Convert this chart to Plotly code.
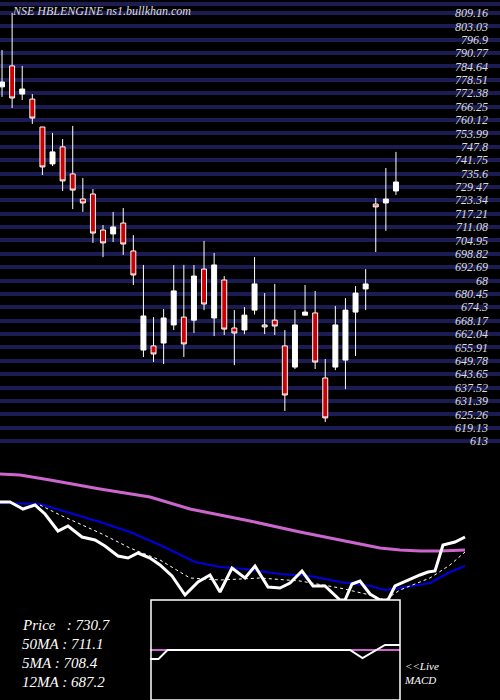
import plotly.graph_objects as go

opens  = [775.3,784.9,772.0,769.7,756.9,740.0,747.8,735.4,723.9,726.2,709.7,707.9,712.9,700.1,654.7,656.6,657.9,666.2,669.8,668.4,
          691.8,669.4,686.8,664.8,663.9,673.0,666.2,668.4,656.6,646.9,670.7,671.7,641.9,646.9,650.1,672.1,682.7,721.6,722.1,727.6]
closes = [777.5,770.2,774.3,761.0,738.6,745.5,732.2,728.0,722.1,708.3,703.8,711.1,703.3,689.1,670.3,652.9,669.4,681.8,657.5,688.6,
          675.8,693.7,664.3,662.5,670.7,685.0,665.3,665.7,634.1,666.2,672.1,649.2,623.6,666.2,673.0,680.8,685.0,720.3,723.9,731.7]
highs  = [792.2,809.2,784.9,772.0,756.9,754.2,751.4,757.4,733.5,728.5,712.0,718.0,719.8,707.4,693.7,669.8,673.5,693.7,693.7,693.7,
          704.7,699.2,688.6,673.0,674.4,697.3,680.8,685.0,663.9,673.0,684.5,681.8,650.6,674.9,678.5,684.0,691.8,724.4,738.1,745.5]
lows   = [770.7,765.6,769.3,758.3,734.9,739.0,727.6,719.3,718.0,703.8,697.3,704.2,698.3,684.5,651.5,649.2,648.3,663.9,651.5,662.5,
          673.0,661.1,661.6,647.8,662.0,671.0,662.0,661.6,626.8,646.0,670.7,646.0,621.7,645.5,636.8,652.0,673.0,699.6,709.3,725.8]
days = list(range(len(opens)))

tick_vals = [813.29,809.16,803.03,796.9,790.77,784.64,778.51,772.38,766.25,760.12,753.99,747.8,741.75,735.6,729.47,723.34,
             717.21,711.08,704.95,698.82,692.69,686.56,680.45,674.3,668.17,662.04,655.91,649.78,643.65,637.52,631.39,625.26,619.13,613]
tick_text = [str(v) for v in tick_vals]
tick_text[21] = "68"

# indicator panel (level units)
price_x = [0,1.0,2.3,3.5,4.5,5.8,6.8,8.2,9.5,10.5,11.8,12.8,13.8,15.0,16.0,17.2,18.5,19.8,21.0,22.0,23.2,24.5,25.5,26.8,28.0,
           29.0,30.2,31.3,32.5,34.0,34.5,35.2,36.0,37.0,38.0,38.8,39.5,41.0,42.0,42.8,43.5,44.3,45.5,46.5]
price_v = [198,198,191,195,186,169,174,163,160,154,144,142,147,142,135,124,105,118,125,108,132,122,134,113,112,117,129,114,114,100,
           100,116,119,106,100,100,114,121,125,128,129,155,158,163]
blue_x = [0,4,6,10,13,16,19.5,22,24.5,28,31,34,37,38.5,40,43,45,46.5]
blue_v = [197,196,190,178,168,155,138,133,131,126,124,118,114,110,112,117,128,134]
dot_x = [4,6,10,13,16,19,22,26,30,34,37,38.5,40,43,45,46.5]
dot_v = [195,185,167,152,140,122,120,122,119,112,105,100,110,122,135,148]
ma50_x = [0,2,5,10,15,19,25,30,35,38,40,42,44,46.5]
ma50_v = [226,225,220,211,203,191,179,168,158,152,150,149,149,150]

macd_x = [0,1.7,3.5,30,32,36,40,42.5,47,50]
macd_v = [-9,-9,0,0,0,0,0,-8,5,5]
signal_x = [0,50]
signal_v = [0,0]

fig = go.Figure()
fig.add_trace(go.Candlestick(x=days, open=opens, high=highs, low=lows, close=closes,
    increasing=dict(line=dict(color="white", width=1), fillcolor="white"),
    decreasing=dict(line=dict(color="white", width=1), fillcolor="#cc0000"),
    whiskerwidth=0, xaxis="x", yaxis="y", showlegend=False))
fig.add_trace(go.Scatter(x=ma50_x, y=ma50_v, mode="lines", line=dict(color="#cc66cc", width=3), xaxis="x2", yaxis="y2"))
fig.add_trace(go.Scatter(x=blue_x, y=blue_v, mode="lines", line=dict(color="#0000dd", width=2), xaxis="x2", yaxis="y2"))
fig.add_trace(go.Scatter(x=dot_x, y=dot_v, mode="lines", line=dict(color="white", width=1, dash="dot"), xaxis="x2", yaxis="y2"))
fig.add_trace(go.Scatter(x=price_x, y=price_v, mode="lines", line=dict(color="white", width=3), xaxis="x2", yaxis="y2"))
fig.add_trace(go.Scatter(x=signal_x, y=signal_v, mode="lines", line=dict(color="#cc66cc", width=2), xaxis="x3", yaxis="y3"))
fig.add_trace(go.Scatter(x=macd_x, y=macd_v, mode="lines", line=dict(color="white", width=2), xaxis="x3", yaxis="y3"))

fig.update_layout(
    width=500, height=700, margin=dict(l=0, r=0, t=0, b=0),
    paper_bgcolor="black", plot_bgcolor="black", showlegend=False,
    xaxis=dict(domain=[0, 1], range=[-0.2, 49.3], showgrid=False, showticklabels=False, zeroline=False,
               rangeslider=dict(visible=False), anchor="y"),
    yaxis=dict(domain=[1 - 450/700, 1], range=[608.9, 815.1], tickvals=tick_vals, ticktext=tick_text,
               showgrid=True, gridcolor="#1c1c55", gridwidth=4, zeroline=False,
               side="right", ticklabelposition="inside", ticks="", ticklabelstandoff=9,
               tickfont=dict(family="Liberation Serif", size=12, color="#dddddd", style="italic"), anchor="x"),
    xaxis2=dict(domain=[0, 1], range=[0, 50], visible=False, anchor="y2"),
    yaxis2=dict(domain=[100/700, 240/700], range=[100, 240], visible=False, anchor="x2"),
    xaxis3=dict(domain=[0.3, 0.8], range=[0, 50], visible=False, anchor="y3"),
    yaxis3=dict(domain=[0, 100/700], range=[-50, 50], visible=False, anchor="x3"),
)
fig.add_shape(type="rect", xref="paper", yref="paper", x0=0.302, x1=0.8, y0=0, y1=100/700,
              line=dict(color="white", width=1.5))
fig.add_annotation(x=0.02, y=1-11/700, xref="paper", yref="paper", xanchor="left", yanchor="middle",
                   text="<i>NSE HBLENGINE ns1.bullkhan.com</i>", showarrow=False,
                   font=dict(family="Liberation Serif", size=12, color="#dddddd"))
labels = ["Price   : 730.7", "50MA : 711.1", "5MA : 708.4", "12MA : 687.2"]
for i, t in enumerate(labels):
    fig.add_annotation(x=20/500, y=1-(625+i*19)/700, xref="paper", yref="paper", xanchor="left", yanchor="middle",
                       text="<i>"+t+"</i>", showarrow=False,
                       font=dict(family="Liberation Serif", size=15, color="white"))
fig.add_annotation(x=402/500, y=1-673/700, xref="paper", yref="paper", xanchor="left", yanchor="middle",
                   text="<i>&lt;&lt;Live<br>MACD</i>", showarrow=False, align="left",
                   font=dict(family="Liberation Serif", size=11, color="white"))
fig.write_html("out.html", config={"displayModeBar": False},
               post_script="document.body.style.margin='0';document.body.style.background='black';")
